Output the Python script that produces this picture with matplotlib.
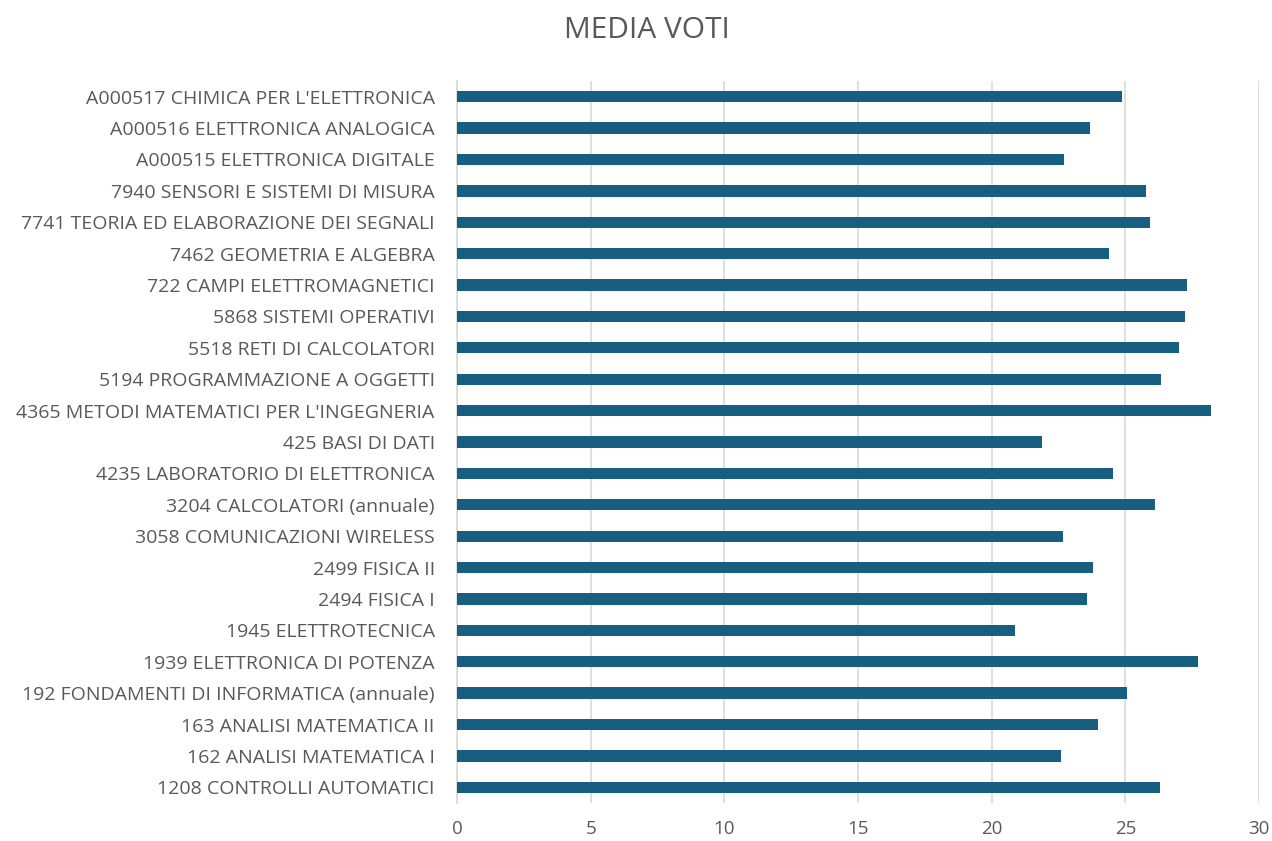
import matplotlib.pyplot as plt

# -------------------------
# dati (dal basso verso l'alto)
# -------------------------
corsi = [
    "1208 CONTROLLI AUTOMATICI",
    "162 ANALISI MATEMATICA I",
    "163 ANALISI MATEMATICA II",
    "192 FONDAMENTI DI INFORMATICA (annuale)",
    "1939 ELETTRONICA DI POTENZA",
    "1945 ELETTROTECNICA",
    "2494 FISICA I",
    "2499 FISICA II",
    "3058 COMUNICAZIONI WIRELESS",
    "3204 CALCOLATORI (annuale)",
    "4235 LABORATORIO DI ELETTRONICA",
    "425 BASI DI DATI",
    "4365 METODI MATEMATICI PER L'INGEGNERIA",
    "5194 PROGRAMMAZIONE A OGGETTI",
    "5518 RETI DI CALCOLATORI",
    "5868 SISTEMI OPERATIVI",
    "722 CAMPI ELETTROMAGNETICI",
    "7462 GEOMETRIA E ALGEBRA",
    "7741 TEORIA ED ELABORAZIONE DEI SEGNALI",
    "7940 SENSORI E SISTEMI DI MISURA",
    "A000515 ELETTRONICA DIGITALE",
    "A000516 ELETTRONICA ANALOGICA",
    "A000517 CHIMICA PER L'ELETTRONICA",
]
media = [
    26.30, 22.61, 23.97, 25.05, 27.72, 20.88, 23.56, 23.79,
    22.66, 26.12, 24.52, 21.89, 28.20, 26.35, 27.01, 27.25,
    27.31, 24.39, 25.94, 25.76, 22.72, 23.67, 24.87,
]
x_ticks = [0, 5, 10, 15, 20, 25, 30]

# -------------------------
# stile
# -------------------------
plt.rcParams['font.family'] = ['Open Sans', 'DejaVu Sans']
testo = '#595959'

fig = plt.figure(figsize=(12.72, 8.41), dpi=100)
ax = fig.add_axes([457 / 1272, 1 - 803 / 841, 802 / 1272, 722 / 841])

y = range(len(corsi))
ax.barh(y, media, height=0.36, color='#185E81', zorder=3)

ax.set_xlim(0, 30)
ax.set_ylim(-0.5, len(corsi) - 0.5)
ax.set_xticks(x_ticks)
ax.set_yticks(list(y))
ax.set_yticklabels(corsi)

ax.grid(axis='x', color='#d9d9d9', linewidth=1.2, zorder=0)
for s in ['top', 'right', 'bottom']:
    ax.spines[s].set_visible(False)
ax.spines['left'].set_color('#d9d9d9')
ax.spines['left'].set_linewidth(1.2)

ax.tick_params(axis='both', length=0, colors=testo)
ax.tick_params(axis='y', pad=16, labelsize=14)
ax.tick_params(axis='x', pad=12, labelsize=13.5)

fig.text(647 / 1272, 1 - 31 / 841, "MEDIA VOTI", ha='center', va='center',
         fontsize=21.5, color=testo)

fig.savefig("out.png", dpi=100)
